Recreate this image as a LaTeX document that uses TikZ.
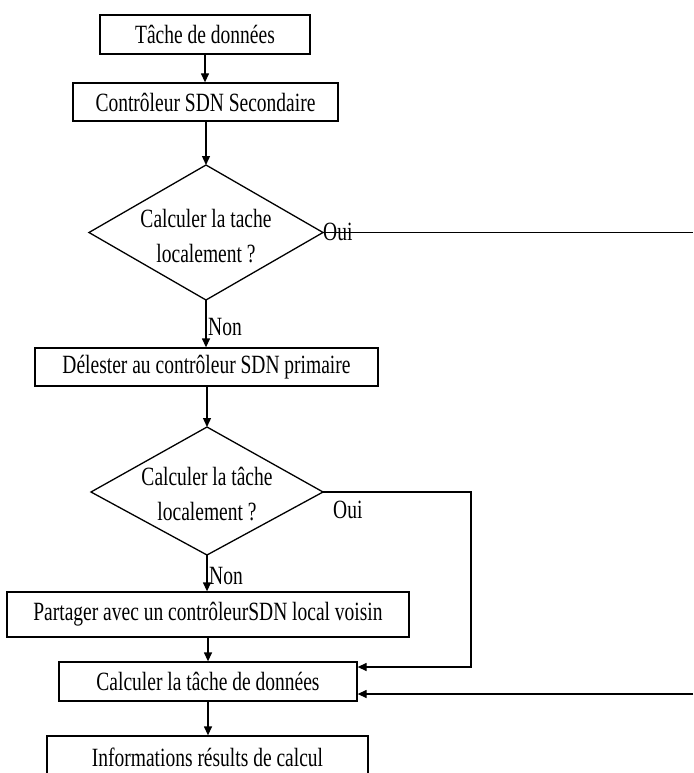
\documentclass[tikz,border=0pt]{standalone}
\usepackage{graphicx}
\usepackage{fontspec}
\setmainfont{Liberation Serif}
\usetikzlibrary{arrows.meta}
\newcommand{\sx}[1]{\scalebox{1}[1.35]{#1}}
\begin{document}
\begin{tikzpicture}[x=1pt,y=-1pt,
  box/.style={draw,line width=1.3pt,inner sep=0pt,font=\fontsize{19.5}{23}\selectfont},
  dectext/.style={inner sep=0pt,align=center,font=\fontsize{19.5}{35}\selectfont},
  decshape/.style={line width=1.3pt,line join=miter},
  lbl/.style={inner sep=0pt,anchor=west,font=\fontsize{19.5}{23}\selectfont},
  conn/.style={line width=1.3pt,-{Triangle[length=9pt,width=8pt]}},
  plain/.style={line width=1.3pt}]
\useasboundingbox (0,0) rectangle (693,773);
\node[box,minimum width=210pt,minimum height=39pt] (b1) at (205,34.5) {\sx{Tâche de données}};
\node[box,minimum width=265pt,minimum height=38pt] (b2) at (205.5,102) {\sx{Contrôleur SDN Secondaire}};
% diamond 1
\coordinate (d1n) at (206,165);
\coordinate (d1e) at (323,232.5);
\coordinate (d1s) at (206,300);
\coordinate (d1w) at (89,232.5);
\draw[decshape] (d1n) -- (d1e) -- (d1s) -- (d1w) -- cycle;
\node[dectext] (d1) at (206,236) {\sx{Calculer la tache}\\\sx{localement ?}};
\node[box,minimum width=343pt,minimum height=38pt] (b3) at (206.5,367) {\sx{Délester au contrôleur SDN primaire}};
% diamond 2
\coordinate (d2n) at (207,427);
\coordinate (d2e) at (323,492);
\coordinate (d2s) at (207,555);
\coordinate (d2w) at (91,492);
\draw[decshape] (d2n) -- (d2e) -- (d2s) -- (d2w) -- cycle;
\node[dectext] (d2) at (207,494.5) {\sx{Calculer la tâche}\\\sx{localement ?}};
\node[box,minimum width=402pt,minimum height=45pt] (b4) at (208,614.5) {\sx{Partager avec un contrôleurSDN local voisin}};
\node[box,minimum width=298pt,minimum height=39pt] (b5) at (208,681.5) {\sx{Calculer la tâche de données}};
\node[box,minimum width=321pt,minimum height=42pt] (b6) at (207.5,757) {\sx{Informations résults de calcul}};
\coordinate (r1) at (693,232.5);
\coordinate (c1) at (471,667);
\coordinate (r2) at (693,694);
\draw[conn] (b1.south) -- (b1.south |- b2.north);
\draw[conn] (b2.south -| d1n) -- (d1n);
\draw[conn] (d1s) -- (d1s |- b3.north);
\draw[conn] (b3.south -| d2n) -- (d2n);
\draw[conn] (d2s) -- (d2s |- b4.north);
\draw[conn] (b4.south) -- (b4.south |- b5.north);
\draw[conn] (b5.south) -- (b5.south |- b6.north);
\draw[plain] (d1e) -- (r1);
\draw[conn] (d2e) -| (c1) -- (c1 -| b5.east);
\draw[conn] (r2) -- (r2 -| b5.east);
\node[lbl] (oui1) at (323,232) {\sx{Oui}};
\node[lbl] (non1) at (208,327) {\sx{Non}};
\node[lbl] (oui2) at (333,510) {\sx{Oui}};
\node[lbl] (non2) at (209,576) {\sx{Non}};
\end{tikzpicture}
\end{document}
